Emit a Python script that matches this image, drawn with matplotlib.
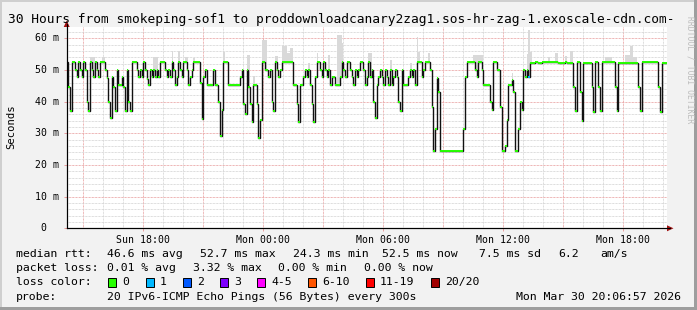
"""
Smokeping 30 h latency graph: smokeping-sof1 -> proddownloadcanary2zag1 (exoscale cdn)
Median RTT per 5 min step, loss colour, light grey smoke above the median.
"""
import numpy as np
import matplotlib
matplotlib.use("Agg")
import matplotlib.pyplot as plt
from matplotlib.patches import Rectangle, Polygon
from matplotlib.lines import Line2D

# ─── Data (ms, one value per 5 min step, 360 steps = 30 h) ────────────────────
rtt_seg1 = [52.5, 44.7, 37.0, 52.5, 52.5, 50.0, 47.9, 52.5, 50.0, 47.9,
            52.5, 50.0, 39.9, 37.0, 52.5, 50.0, 47.9, 52.5, 50.0, 47.9,
            52.5, 52.5, 52.5, 50.0, 47.5, 39.9, 34.7, 47.9, 44.7, 37.0,
            50.0, 45.4, 45.4, 47.9, 44.7, 37.0, 50.0, 39.9, 37.0, 52.5,
            52.5, 52.5, 50.0, 47.9, 50.0, 47.9, 52.5, 50.0, 47.0, 45.4,
            50.0, 47.9, 50.0, 47.9, 50.0, 47.9, 52.5, 52.5, 52.5, 50.0]
rtt_seg2 = [47.9, 50.0, 47.9, 52.5, 50.0, 45.4, 47.9, 52.5, 50.0, 47.9,
            52.5, 52.5, 50.0, 45.4, 47.9, 50.0, 52.5, 52.5, 52.5, 52.5,
            46.0, 34.5, 47.9, 50.0, 45.4, 45.4, 45.4, 45.4, 50.0, 45.4,
            45.4, 39.9, 29.1, 37.3, 52.5, 52.5, 52.5, 45.4, 45.4, 45.4,
            45.4, 45.4, 45.4, 45.4, 47.9, 50.0, 39.4, 36.1, 50.0, 44.7,
            39.4, 33.7, 45.4, 45.4, 39.4, 28.4, 34.3, 52.5, 52.5, 50.0]
rtt_seg3 = [50.0, 47.9, 50.0, 39.9, 37.0, 52.5, 50.0, 47.9, 50.0, 52.5,
            52.5, 52.5, 52.5, 52.5, 52.5, 52.5, 45.4, 45.4, 39.4, 33.7,
            45.4, 45.4, 47.9, 50.0, 47.9, 50.0, 45.4, 39.4, 33.7, 47.9,
            52.5, 52.5, 50.0, 47.9, 52.5, 50.0, 47.9, 50.0, 45.4, 47.9,
            47.9, 45.4, 45.4, 45.4, 47.9, 52.5, 50.0, 47.9, 52.5, 52.5,
            50.0, 47.9, 45.4, 50.0, 47.9, 50.0, 52.5, 52.5, 50.0, 45.4]
rtt_seg4 = [47.9, 52.5, 47.9, 50.0, 39.9, 34.7, 45.4, 47.9, 50.0, 47.9,
            45.4, 50.0, 47.9, 45.4, 50.0, 45.4, 47.9, 50.0, 47.9, 39.9,
            37.0, 50.0, 45.4, 45.4, 45.4, 47.9, 50.0, 47.9, 50.0, 45.4,
            52.5, 52.5, 52.5, 47.9, 50.0, 52.5, 52.5, 52.5, 50.0, 38.4,
            24.5, 31.3, 47.6, 43.1, 24.5, 24.5, 24.5, 24.5, 24.5, 24.5,
            24.5, 24.5, 24.5, 24.5, 24.5, 24.5, 24.5, 24.5, 31.3, 47.9]
rtt_seg5 = [52.5, 52.5, 52.5, 52.5, 52.5, 50.0, 47.9, 52.5, 52.5, 50.0,
            45.4, 45.4, 45.4, 45.4, 39.9, 37.3, 52.5, 52.5, 50.0, 50.0,
            38.4, 24.5, 24.5, 26.1, 34.3, 45.4, 45.4, 46.8, 43.1, 24.5,
            24.5, 31.3, 39.9, 37.3, 50.0, 47.9, 50.0, 47.9, 52.1, 52.1,
            52.1, 52.5, 52.5, 52.1, 52.1, 52.5, 52.5, 52.5, 52.5, 52.5,
            52.5, 52.5, 52.5, 52.5, 52.5, 52.1, 52.1, 52.1, 52.1, 52.5]
rtt_seg6 = [52.3, 52.3, 52.3, 52.3, 44.7, 37.0, 52.5, 52.5, 43.1, 34.0,
            52.3, 52.3, 52.3, 52.3, 52.3, 44.7, 36.6, 52.5, 52.5, 44.7,
            37.0, 52.5, 52.5, 52.5, 52.5, 52.5, 52.5, 52.5, 52.5, 44.7,
            37.0, 52.3, 52.3, 52.3, 52.3, 52.3, 52.3, 52.3, 52.3, 52.3,
            52.3, 52.3, 52.3, 44.7, 37.0, 52.4, 52.4, 52.4, 52.4, 52.4,
            52.4, 52.4, 52.4, 52.4, 52.4, 44.7, 36.6, 52.3, 52.3, 52.3]

# smoke (highest ping of the step) where it shows above the median
smoke_step = [14, 15, 16, 21, 22, 52, 53, 54, 63, 67, 71, 72, 76, 94, 108, 109,
              112, 117, 118, 119, 125, 126, 129, 130, 131, 132, 133, 134, 135,
              145, 150, 157, 162, 163, 164, 165, 181, 182, 194, 206, 210, 211,
              217, 244, 245, 246, 247, 248, 249, 267, 276, 277, 278, 289, 293,
              294, 299, 302, 303, 323, 324, 325, 326, 329, 335, 336, 337, 338,
              339, 340, 341]
smoke_top = [54.2, 54.2, 54.2, 54.0, 54.0, 54.2, 54.2, 54.2, 56.1, 56.1, 54.0,
             54.0, 53.7, 55.8, 54.7, 54.7, 48.0, 59.4, 59.4, 59.4, 54.4, 54.4,
             57.5, 57.5, 57.5, 55.3, 55.3, 56.9, 56.9, 52.1, 55.5, 54.7, 61.0,
             61.0, 61.0, 58.4, 55.3, 55.3, 53.0, 52.1, 60.5, 55.8, 55.3, 54.7,
             54.7, 54.7, 54.7, 54.7, 54.7, 48.9, 55.0, 62.6, 55.8, 54.2, 55.3,
             55.3, 54.4, 56.1, 56.1, 54.2, 54.2, 54.2, 54.2, 46.8, 54.7, 54.7,
             54.7, 57.6, 57.6, 54.2, 54.2]

# steps with packet loss (lost pings out of 20)
loss_step = [277]
loss_pings = [1]

tick_hours = [18, 24, 30, 36, 42]
tick_labels = ["Sun 18:00", "Mon 00:00", "Mon 06:00", "Mon 12:00", "Mon 18:00"]
ytick_vals = [0, 10, 20, 30, 40, 50, 60]
ytick_labels = [" 0", "10 m", "20 m", "30 m", "40 m", "50 m", "60 m"]

loss_names = ["0", "1", "2", "3", "4-5", "6-10", "11-19", "20/20"]
loss_colors = ["#26ff00", "#00b8ff", "#0059ff", "#7e00ff", "#ff00ff",
               "#ff5500", "#ff0000", "#a10000"]

title = ("30 Hours from smokeping-sof1 to "
         "proddownloadcanary2zag1.sos-hr-zag-1.exoscale-cdn.com-")

# ─── Geometry helpers (pixel -> figure fraction) ───────────────────────────────
W, H = 697, 310
MONO = "DejaVu Sans Mono"


def fx(x):
    return x / W


def fy(y):
    return 1 - y / H


median = np.concatenate([rtt_seg1, rtt_seg2, rtt_seg3, rtt_seg4, rtt_seg5, rtt_seg6])
n = len(median)
T0 = 14 + 10 / 60          # Sun 14:10, hours since Sun 00:00
STEP = 5 / 60
edges = T0 + np.arange(n + 1) * STEP

step_color = [loss_colors[0]] * n
for s, p in zip(loss_step, loss_pings):
    step_color[s] = loss_colors[p]

fig = plt.figure(figsize=(W / 100, H / 100), dpi=100, facecolor="#f2f2f2")

# outer frame: light top/left, dark bottom/right
fig.add_artist(Rectangle((0, fy(2)), 1, 2 / H, transform=fig.transFigure,
                         color="#cfcfcf", lw=0))
fig.add_artist(Rectangle((0, 0), 2 / W, 1, transform=fig.transFigure,
                         color="#cfcfcf", lw=0))
fig.add_artist(Rectangle((0, 0), 1, 3 / H, transform=fig.transFigure,
                         color="#9e9e9e", lw=0))
fig.add_artist(Rectangle((fx(W - 3), 0), 3 / W, 1, transform=fig.transFigure,
                         color="#9e9e9e", lw=0))

ax = fig.add_axes([fx(66.7), fy(228.3), 600 / W, 201 / H])
ax.set_facecolor("white")
ax.set_xlim(T0, T0 + 30)
ax.set_ylim(0, 201 / 3.1667)

# grid: grey every hour / 2 ms, red every 3 h / 10 ms
dots = (0, (0.72, 0.72))
for h in range(15, 45):
    c = "#e89c9c" if h % 3 == 0 else "#d2d2d2"
    ax.axvline(h, color=c, lw=0.72, ls=dots, zorder=1)
for v in range(2, 64, 2):
    c = "#e89c9c" if v % 10 == 0 else "#d2d2d2"
    ax.axhline(v, color=c, lw=0.72, ls=dots, zorder=1)

# smoke
sm_idx = np.array(smoke_step)
sm_top = np.array(smoke_top)
ax.bar(edges[sm_idx] + STEP / 2, sm_top - median[sm_idx], bottom=median[sm_idx],
       width=STEP, color="#d9d9d9", lw=0, zorder=2)

# median: black step line, loss coloured level segments
ax.stairs(median, edges, color="#111111", lw=1.0, baseline=None, zorder=3)
ax.hlines(median, edges[:-1], edges[1:], colors=step_color, lw=1.4, zorder=4)

for side in ("top", "right"):
    ax.spines[side].set_visible(False)
for side in ("left", "bottom"):
    ax.spines[side].set_linewidth(0.8)
ax.set_yticks(ytick_vals)
ax.set_yticklabels([])
ax.tick_params(axis="y", length=2, width=0.7, color="#e89c9c")
ax.set_xticks(tick_hours, labels=tick_labels)
ax.tick_params(axis="x", length=2, width=0.7, color="#e89c9c", pad=2.5,
               labelsize=7.1)
for lab in ax.get_xticklabels():
    lab.set_family(MONO)

for v, lab in zip(ytick_vals, ytick_labels):
    ax.text((35 - 66.7) / 600, v, lab, transform=ax.get_yaxis_transform(),
            ha="left", va="center", family=MONO, fontsize=7.1)

# axis arrows
fig.add_artist(Line2D([fx(66.7), fx(66.7)], [fy(228), fy(24)], color="black", lw=0.8))
fig.add_artist(Line2D([fx(66.7), fx(670)], [fy(228.3), fy(228.3)], color="black", lw=0.8))
fig.add_artist(Polygon([[fx(63.7), fy(27)], [fx(69.7), fy(27)], [fx(66.7), fy(20.5)]],
                       transform=fig.transFigure, color="#a01010", lw=0))
fig.add_artist(Polygon([[fx(667), fy(225.3)], [fx(667), fy(231.3)], [fx(673.5), fy(228.3)]],
                       transform=fig.transFigure, color="#a01010", lw=0))

# texts
fig.text(fx(8), fy(19), title, family=MONO, fontsize=9.25, ha="left", va="center")
fig.text(fx(11), fy(127), "Seconds", family=MONO, fontsize=7.6, rotation=90,
         ha="center", va="center")
fig.text(fx(690), fy(70), "RRDTOOL / TOBI OETIKER", family=MONO, fontsize=5.8,
         rotation=270, ha="center", va="center", color="#bdbdbd")

LEG = 8.25
rows = {
    254: [(16, "median rtt:"), (107, "46.6 ms avg"), (200, "52.7 ms max"),
          (293, "24.3 ms min"), (382, "52.5 ms now"), (479, "7.5 ms sd"),
          (558, "6.2"), (600, "am/s")],
    268: [(16, "packet loss:"), (107, "0.01 % avg"), (193, "3.32 % max"),
          (278, "0.00 % min"), (364, "0.00 % now")],
    282: [(16, "loss color:")],
    296.5: [(16, "probe:"), (107, "20 IPv6-ICMP Echo Pings (56 Bytes) every 300s")],
}
for y, items in rows.items():
    for x, s in items:
        fig.text(fx(x), fy(y), s, family=MONO, fontsize=LEG, ha="left", va="center")
fig.text(fx(681), fy(296.5), "Mon Mar 30 20:06:57 2026", family=MONO, fontsize=LEG,
         ha="right", va="center")

box_x = [108, 145.5, 182.5, 219.5, 257, 307.5, 365.5, 430.5]
for bx, name, col in zip(box_x, loss_names, loss_colors):
    fig.add_artist(Rectangle((fx(bx), fy(286.5)), 8 / W, 9 / H, transform=fig.transFigure,
                             facecolor=col, edgecolor="black", lw=0.7))
    fig.text(fx(bx + 14.5), fy(282), name, family=MONO, fontsize=LEG,
             ha="left", va="center")

fig.savefig("out.png", dpi=100, facecolor=fig.get_facecolor())
